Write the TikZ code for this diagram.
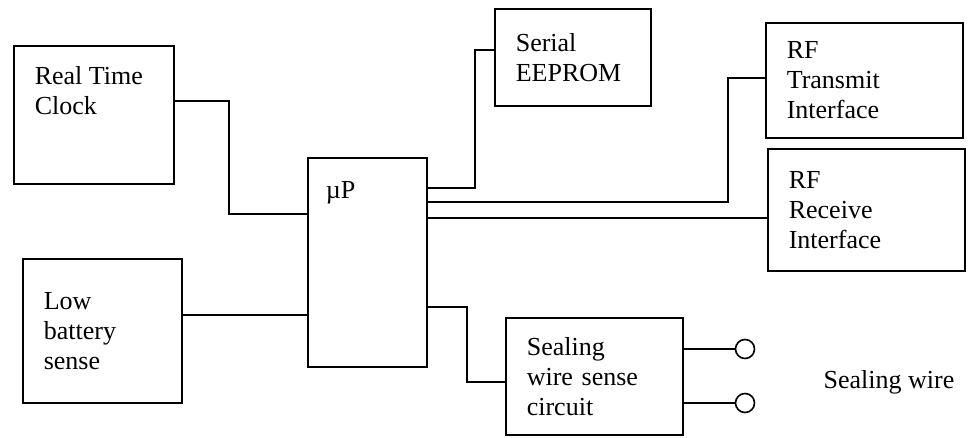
\documentclass[tikz,border=0pt]{standalone}
\usepackage{fontspec}
\setmainfont{Liberation Serif}
\tikzset{
every picture/.style={
line width=1.6pt
}}
\tikzset{blk/.style={draw, rectangle, anchor=north west, align=left,
    inner xsep=21pt, font=\fontsize{26}{30}\selectfont},
  lbl/.style={anchor=north west, align=left, inner sep=21pt,
    font=\fontsize{26}{30}\selectfont},
  term/.style={draw, circle, minimum size=19pt, inner sep=0pt}}

\begin{document}
\begin{tikzpicture}[x=1pt,y=-1pt]
\useasboundingbox (0,0) rectangle (972,438);
% blocks
\node[blk, minimum width=160pt, minimum height=138pt,
  label={[lbl]north west:Real Time\\Clock}] (rtc) at (13,45) {};
\node[blk, minimum width=119pt, minimum height=209pt,
  label={[lbl, inner xsep=18pt, inner ysep=24pt]north west:µP}] (mp) at (307,157) {};
\node[blk, text width=114pt, minimum height=97pt] (eeprom) at (494,8) {Serial\\EEPROM};
\node[blk, text width=155pt, minimum height=115pt] (rftx) at (765,22) {RF\\Transmit\\Interface};
\node[blk, text width=155pt, minimum height=122pt] (rfrx) at (767,148) {RF\\Receive\\Interface};
\node[blk, text width=117pt, minimum height=144pt] (lowbat) at (22,258) {Low\\battery\\sense};
\node[blk, text width=135pt, minimum height=117pt] (seal) at (505,317) {Sealing\\wire sense\\circuit};
% terminals
\node[term] (t1) at (745,349) {};
\node[term] (t2) at (745,403) {};
\node[font=\fontsize{26}{30}\selectfont] (wire) at (889,382) {Sealing wire};
% connections
\draw (rtc.east |- 0,101) -| (229,214) -- (mp.west |- 0,214);
\draw (eeprom.west |- 0,50) -| (475,188) -- (mp.east |- 0,188);
\draw (rftx.west |- 0,78) -| (728,202) -- (mp.east |- 0,202);
\draw (mp.east |- 0,218) -- (rfrx.west |- 0,218);
\draw (lowbat.east |- 0,315) -- (mp.west |- 0,315);
\draw (mp.east |- 0,307) -| (467,382) -- (seal.west |- 0,382);
\draw (seal.east |- t1) -- (t1);
\draw (seal.east |- t2) -- (t2);
\end{tikzpicture}
\end{document}
